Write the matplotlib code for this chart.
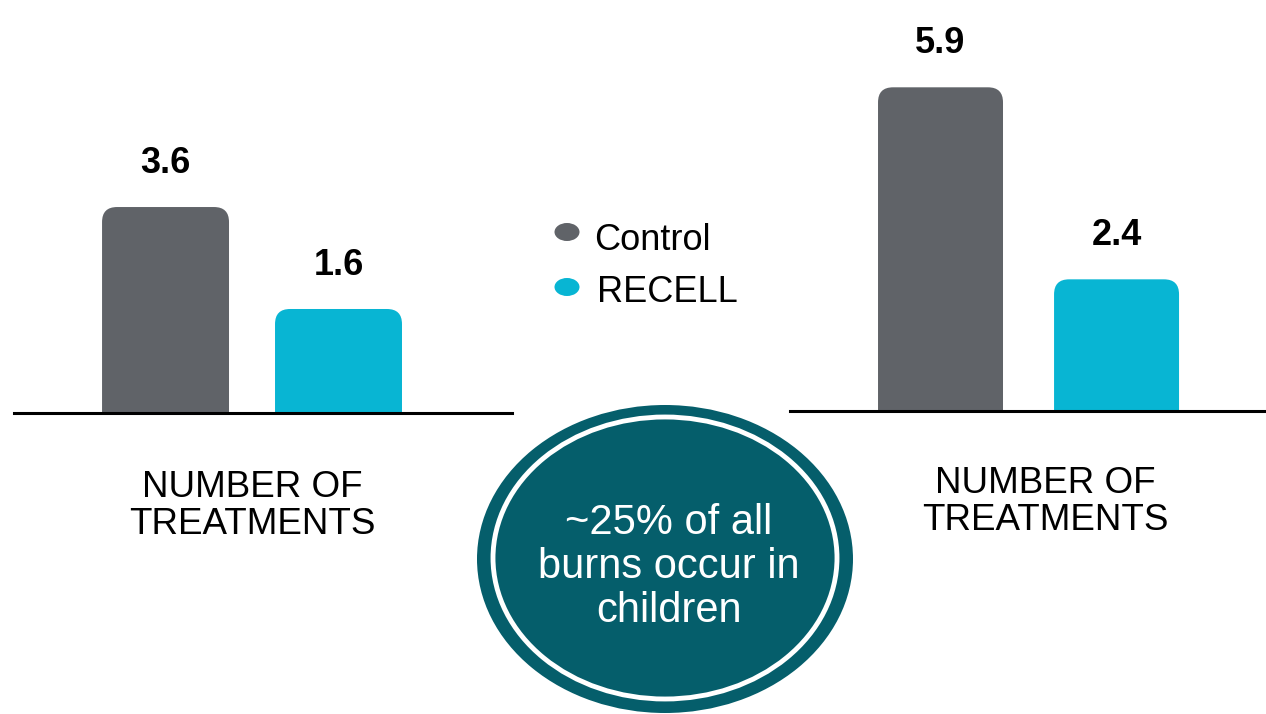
"""Control vs RECELL: number of treatments, two panels with a callout."""

import matplotlib

matplotlib.use("Agg")
import matplotlib.pyplot as plt  # noqa: E402
from matplotlib.patches import Ellipse, FancyBboxPatch  # noqa: E402

plt.rcParams["font.family"] = ["Liberation Sans", "DejaVu Sans"]

# --- data ---------------------------------------------------------------
groups = ["Control", "RECELL"]
left_values = [3.6, 1.6]
right_values = [5.9, 2.4]
panel_label = "NUMBER OF\nTREATMENTS"
callout = "~25% of all\nburns occur in\nchildren"

GRAY = "#606368"
CYAN = "#08B5D3"
TEAL = "#055E6B"
colors = [GRAY, CYAN]

W, H = 1266, 714
fig = plt.figure(figsize=(W / 100, H / 100), dpi=100)


def px_axes(x0, x1, y_base, y_top):
    """Axes placed by pixel coordinates (y from the top of the image)."""
    return fig.add_axes([x0 / W, (H - y_base) / H, (x1 - x0) / W, (y_base - y_top) / H])


def draw_panel(ax, values, width, xlim, ylim, radius_px):
    ax.set_xlim(*xlim)
    ax.set_ylim(*ylim)
    bbox = ax.get_window_extent()
    ux = (xlim[1] - xlim[0]) / bbox.width    # x units per pixel
    uy = (ylim[1] - ylim[0]) / bbox.height   # y units per pixel
    bottom = ylim[0] - 1.0
    for i, (v, c) in enumerate(zip(values, colors)):
        p = FancyBboxPatch((i - width / 2, bottom), width, v - bottom,
                           boxstyle=f"round,pad=0,rounding_size={radius_px * ux}",
                           mutation_aspect=uy / ux, fc=c, ec="none")
        ax.add_patch(p)
        ax.annotate(f"{v}", (i, v), xytext=(0, 26), textcoords="offset pixels",
                    ha="center", va="bottom", fontsize=26, fontweight="bold")
    for side in ["top", "left", "right"]:
        ax.spines[side].set_visible(False)
    ax.spines["bottom"].set_linewidth(2.2)
    ax.spines["bottom"].set_zorder(5)
    ax.set_xticks([])
    ax.set_yticks([])
    ax.patch.set_alpha(0)


ax_l = px_axes(14, 512, 413, 50)
draw_panel(ax_l, left_values, 0.734, (-0.876, 2.003), (-0.44, 6.68), 15)

ax_r = px_axes(790, 1266, 411, 50)
draw_panel(ax_r, right_values, 0.71, (-0.855, 1.849), (0.0, 6.58), 15)

# panel labels
fig.text(252 / W, 1 - 506 / H, panel_label, ha="center", va="center",
         fontsize=26.5, linespacing=1.08)
fig.text(1045 / W, 1 - 502 / H, panel_label, ha="center", va="center",
         fontsize=26.5, linespacing=1.08)

# legend (drawn by hand in pixel space)
leg = fig.add_axes([0, 0, 1, 1])
leg.set_xlim(0, W)
leg.set_ylim(H, 0)
leg.axis("off")
leg.patch.set_alpha(0)
for (name, c, y_mark, x_txt, y_txt) in [(groups[0], GRAY, 232, 594, 240),
                                         (groups[1], CYAN, 287, 597, 293)]:
    leg.add_patch(Ellipse((567, y_mark), 25, 18, fc=c, ec="none"))
    leg.text(x_txt, y_txt, name, ha="left", va="center", fontsize=26)

# callout circle
leg.add_patch(Ellipse((665, 559), 376, 308, fc=TEAL, ec="none"))
leg.add_patch(Ellipse((665, 558), 344, 282, fc="none", ec="white", lw=3.5))
leg.text(669, 567, callout, ha="center", va="center", color="white",
         fontsize=30, linespacing=1.13)

fig.savefig("out.png", dpi=100)
plt.close(fig)
